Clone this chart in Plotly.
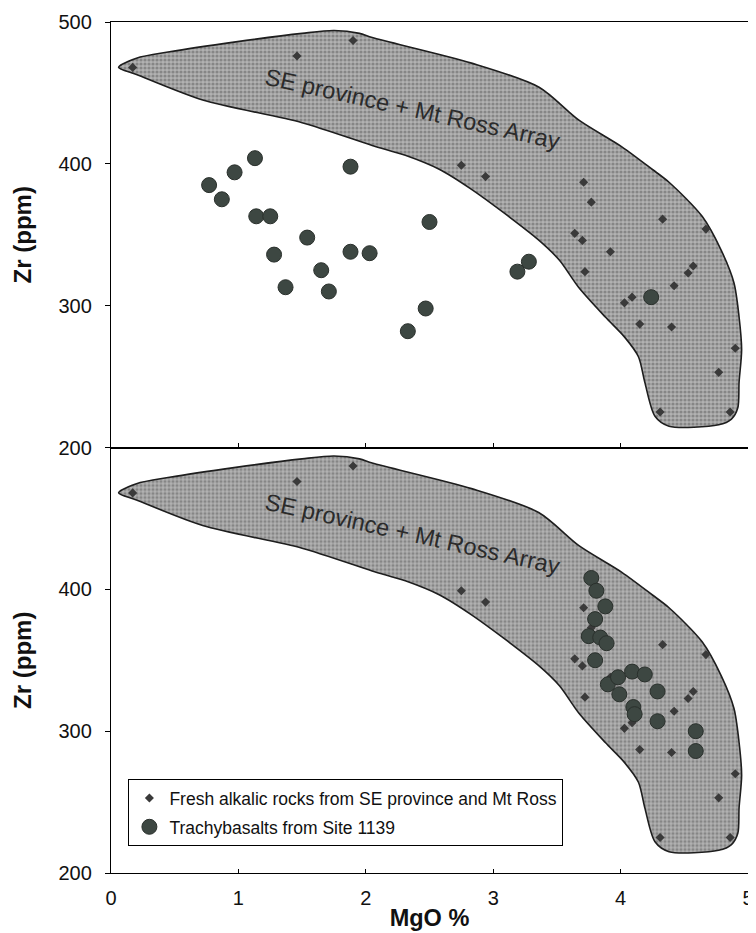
import plotly.graph_objects as go
from plotly.subplots import make_subplots

# Envelope outline: "SE province + Mt Ross Array" field (MgO %, Zr ppm)
array_mgo = [0.06, 0.20, 0.46, 0.98, 1.50, 1.75, 1.95, 2.05, 2.83, 3.36, 3.67, 4.01, 4.25, 4.38,
             4.64, 4.79, 4.89, 4.93, 4.95, 4.93, 4.92, 4.87, 4.77, 4.38, 4.27, 4.19, 4.14, 4.03,
             3.88, 3.67, 3.52, 3.36, 3.09, 2.83, 2.58, 2.31, 2.05, 1.50, 0.72, 0.20, 0.06]
array_zr = [468, 474.5, 479, 486, 492, 494, 492, 489, 471, 454, 431, 412, 396, 387,
            363, 339, 316, 292, 269, 246, 228, 220, 216, 215, 222, 246, 264, 278,
            292, 313, 332, 346, 365, 382, 396, 406, 413, 429, 445, 463, 468]

# Fresh alkalic rocks from SE province and Mt Ross
alkalic_mgo = [0.17, 1.46, 1.90, 2.75, 2.94, 3.71, 3.77, 4.33, 4.67, 3.64, 3.70, 3.92, 3.72,
               4.57, 4.53, 4.42, 4.03, 4.09, 4.15, 4.40, 4.90, 4.77, 4.31, 4.86]
alkalic_zr = [468, 476, 487, 399, 391, 387, 373, 361, 354, 351, 346, 338, 324,
              328, 323, 314, 302, 306, 287, 285, 270, 253, 225, 225]

# Trachybasalts from Site 1139 (upper panel)
site_top_mgo = [0.77, 0.87, 0.97, 1.13, 1.14, 1.25, 1.28, 1.37, 1.54, 1.65, 1.71, 1.88, 1.88,
                2.03, 2.50, 2.47, 2.33, 3.19, 3.28, 4.24]
site_top_zr = [385, 375, 394, 404, 363, 363, 336, 313, 348, 325, 310, 398, 338,
               337, 359, 298, 282, 324, 331, 306]

# Trachybasalts from Site 1139 (lower panel)
site_bot_mgo = [3.77, 3.81, 3.88, 3.80, 3.75, 3.84, 3.89, 3.80, 3.90, 3.98, 4.09, 4.19, 4.29,
                3.99, 4.10, 4.11, 4.29, 4.59, 4.59]
site_bot_zr = [408, 399, 388, 379, 367, 366, 362, 350, 333, 338, 342, 340, 328,
               326, 317, 312, 307, 300, 286]

x_ticks = [0, 1, 2, 3, 4, 5]
y_ticks_top = [200, 300, 400, 500]
y_ticks_bot = [200, 300, 400]

label_array = "SE province + Mt Ross Array"
name_alk = "Fresh alkalic rocks from SE province and Mt Ross"
name_site = "Trachybasalts from Site 1139"

FONT = "Liberation Sans, Arial, Helvetica, sans-serif"
CIRC = "#3d4742"
DIAM = "#3a3a3a"

fig = make_subplots(rows=2, cols=1, shared_xaxes=True, vertical_spacing=0)

for r in (1, 2):
    fig.add_trace(go.Scatter(
        x=array_mgo, y=array_zr, mode="lines", fill="toself",
        line=dict(color="#1e1e1e", width=1.6, shape="spline", smoothing=0.8),
        fillcolor="#a8a8a8",
        fillpattern=dict(shape=".", bgcolor="#b2b2b2", fgcolor="#5a5a5a", size=4, solidity=0.5),
        showlegend=False, hoverinfo="skip"), row=r, col=1)

for r in (1, 2):
    fig.add_trace(go.Scatter(
        x=alkalic_mgo, y=alkalic_zr, mode="markers", name=name_alk,
        marker=dict(symbol="diamond", size=7, color=DIAM),
        legendgroup="a", showlegend=(r == 2)), row=r, col=1)

fig.add_trace(go.Scatter(
    x=site_top_mgo, y=site_top_zr, mode="markers", name=name_site,
    marker=dict(symbol="circle", size=15, color=CIRC, line=dict(color="#2a302c", width=1)),
    legendgroup="b", showlegend=False), row=1, col=1)
fig.add_trace(go.Scatter(
    x=site_bot_mgo, y=site_bot_zr, mode="markers", name=name_site,
    marker=dict(symbol="circle", size=15, color=CIRC, line=dict(color="#2a302c", width=1)),
    legendgroup="b", showlegend=True), row=2, col=1)

for r in (1, 2):
    fig.add_annotation(x=2.37, y=439, text=label_array, showarrow=False, textangle=12.5,
                       font=dict(family=FONT, size=23.5, color="#2b2b2b"), row=r, col=1)

axis_common = dict(showline=True, linecolor="black", linewidth=1.3, mirror=True,
                   showgrid=False, zeroline=False, automargin=False)

fig.update_xaxes(range=[0, 5], tickvals=x_ticks, ticks="inside", ticklen=4,
                 tickcolor="black", **axis_common)
fig.update_xaxes(showticklabels=False, row=1, col=1)
fig.update_xaxes(title=dict(text="<b>MgO %</b>", font=dict(family=FONT, size=23.5, color="#111"), standoff=1),
                 tickfont=dict(family=FONT, size=20, color="#111"), ticklabelstandoff=7,
                 row=2, col=1)

fig.update_yaxes(range=[200, 500], ticks="outside", ticklen=5, tickcolor="black",
                 tickfont=dict(family=FONT, size=20, color="#111"), ticklabelstandoff=9,
                 title=dict(text="<b>Zr (ppm)</b>", font=dict(family=FONT, size=24, color="#111"), standoff=20),
                 **axis_common)
fig.update_yaxes(tickvals=y_ticks_top, row=1, col=1)
fig.update_yaxes(tickvals=y_ticks_bot, row=2, col=1)

# The page body keeps an 8px margin, so the figure is sized to fit the 756x933 window.
fig.update_layout(
    width=748, height=925,
    margin=dict(l=103, r=8, t=14, b=60),
    paper_bgcolor="white", plot_bgcolor="white",
    font=dict(family=FONT, color="#111"),
    legend=dict(x=0.027, y=0.1105, xanchor="left", yanchor="top",
                bordercolor="black", borderwidth=1.2, bgcolor="white",
                font=dict(family=FONT, size=17.5, color="#111"),
                traceorder="grouped", tracegroupgap=3, itemsizing="trace"),
)

fig.write_html("out.html")
